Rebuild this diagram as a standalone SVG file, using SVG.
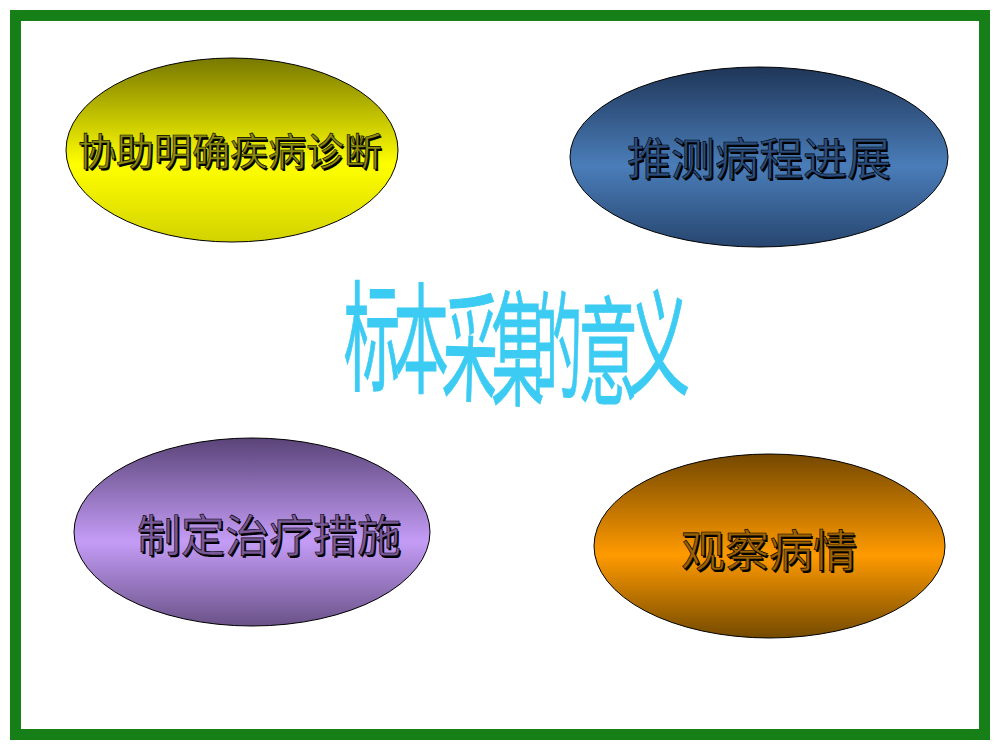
<svg xmlns="http://www.w3.org/2000/svg" width="1000" height="750" viewBox="0 0 1000 750">
  <defs>
    <linearGradient id="gYellow" x1="0" y1="0" x2="0" y2="1">
      <stop offset="0" stop-color="#787800"/>
      <stop offset="0.58" stop-color="#ffff00"/>
      <stop offset="1" stop-color="#d2d200"/>
    </linearGradient>
    <linearGradient id="gBlue" x1="0" y1="0" x2="0" y2="1">
      <stop offset="0" stop-color="#1f3658"/>
      <stop offset="0.55" stop-color="#4a7db9"/>
      <stop offset="1" stop-color="#27466f"/>
    </linearGradient>
    <linearGradient id="gPurple" x1="0" y1="0" x2="0" y2="1">
      <stop offset="0" stop-color="#5a4478"/>
      <stop offset="0.55" stop-color="#c49cf6"/>
      <stop offset="1" stop-color="#6a5288"/>
    </linearGradient>
    <linearGradient id="gOrange" x1="0" y1="0" x2="0" y2="1">
      <stop offset="0" stop-color="#744800"/>
      <stop offset="0.55" stop-color="#ff9a00"/>
      <stop offset="1" stop-color="#744a00"/>
    </linearGradient>
  </defs>
  <style>
    .shape { stroke: #000; stroke-width: 1; }
    .lbl { font-family: "Noto Sans CJK SC", "Noto Sans", sans-serif; text-anchor: middle; }
    .shadow { fill: #000; }
    .main { stroke: #000; stroke-width: 0.6; }
    .title { font-family: "Noto Sans CJK SC", "Noto Sans", sans-serif; font-size: 120px; fill: #3ccbf3; stroke: #3ccbf3; stroke-width: 1; text-anchor: middle; }
  </style>
  <rect x="0" y="0" width="1000" height="750" fill="#ffffff"/>
  <rect id="frame" x="15.5" y="15.5" width="969" height="719" fill="none" stroke="#177f17" stroke-width="11"/>

  <g id="connectors"></g>

  <g id="node-diagnosis">
    <ellipse class="shape" cx="232" cy="150" rx="166" ry="92" fill="url(#gYellow)"/>
    <text class="lbl shadow" x="231.5" y="166.5" font-size="38">协助明确疾病诊断</text>
    <text class="lbl main" x="230" y="165" font-size="38" fill="#8a8a10">协助明确疾病诊断</text>
  </g>

  <g id="node-progress">
    <ellipse class="shape" cx="759" cy="157" rx="189" ry="90" fill="url(#gBlue)"/>
    <text class="lbl shadow" x="760.5" y="176.5" font-size="44">推测病程进展</text>
    <text class="lbl main" x="759" y="175" font-size="44" fill="#2a4c7c">推测病程进展</text>
  </g>

  <g id="node-treatment">
    <ellipse class="shape" cx="252" cy="532" rx="178" ry="94" fill="url(#gPurple)"/>
    <text class="lbl shadow" x="270.5" y="553.5" font-size="44">制定治疗措施</text>
    <text class="lbl main" x="269" y="552" font-size="44" fill="#7a5a9a">制定治疗措施</text>
  </g>

  <g id="node-observe">
    <ellipse class="shape" cx="769.5" cy="546" rx="175.5" ry="92" fill="url(#gOrange)"/>
    <text class="lbl shadow" x="770.5" y="568.5" font-size="44">观察病情</text>
    <text class="lbl main" x="769" y="567" font-size="44" fill="#9a6200">观察病情</text>
  </g>

  <g id="title">
    <text class="title" transform="translate(372,382) scale(0.47,1)">标</text>
    <text class="title" transform="translate(421,384) scale(0.46,1)">本</text>
    <text class="title" transform="translate(469,392) rotate(2) scale(0.46,1)">采</text>
    <text class="title" transform="translate(518,396) scale(0.44,1.04)">集</text>
    <text class="title" transform="translate(557,390) scale(0.42,0.98)">的</text>
    <text class="title" transform="translate(608,395) scale(0.5,0.98)">意</text>
    <text class="title" transform="translate(659,386) scale(0.52,0.96)">义</text>
  </g>
</svg>
